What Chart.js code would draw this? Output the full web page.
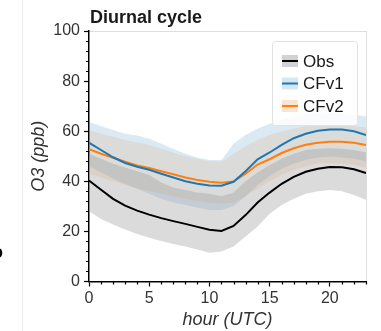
<!DOCTYPE html>
<html>
<head>
<meta charset="utf-8">
<script src="https://cdn.jsdelivr.net/npm/chart.js@4/dist/chart.umd.min.js"></script>
<style>
  html, body { margin: 0; padding: 0; background: #fff; }
  #wrap { width: 381px; height: 331px; }
</style>
</head>
<body>
<div id="wrap"><canvas id="myChart" width="381" height="331"></canvas></div>
<script>
// hourly diurnal cycle
const hours = [0, 1, 2, 3, 4, 5, 6, 7, 8, 9, 10, 11, 12, 13, 14, 15, 16, 17, 18, 19, 20, 21, 22, 23];

const obsMean = [40.3, 36.6, 33.0, 30.3, 28.3, 26.7, 25.3, 24.1, 23.0, 21.8, 20.7, 20.2, 22.2, 26.5, 31.5, 35.5, 39.0, 41.8, 43.8, 45.0, 45.7, 45.6, 44.8, 43.3];
const obsLow = [28, 25, 22.8, 20.8, 19, 17.5, 16.2, 15, 14, 12.8, 11.5, 12, 14, 18, 22, 27, 30.5, 33, 35, 36, 36.5, 36, 34.5, 32.5];
const obsHigh = [51, 49, 47, 45.5, 44, 42.5, 39.5, 37.5, 36.5, 35.5, 35, 34, 35.5, 40, 43.5, 46.5, 49, 51, 52.5, 53, 53.2, 53, 52.5, 51.5];

const cf1Mean = [55.4, 52.5, 49.6, 47.3, 45.8, 44.6, 43.0, 41.5, 40.0, 39.0, 38.3, 38.2, 39.8, 44.0, 48.8, 51.5, 54.5, 57.2, 59.0, 60.2, 60.7, 60.7, 60.0, 58.5];
const cf1Low = [46, 43.5, 41, 39, 37, 35, 33, 31.5, 30.5, 29.5, 28.5, 28.5, 30, 34, 38.5, 42, 45, 47, 48.5, 49.5, 49.8, 49.5, 49, 48];
const cf1High = [63.8, 62, 60.5, 59, 58.3, 57, 55, 53, 51, 49.5, 48.5, 48.5, 55, 58.5, 61, 63, 64.7, 66, 67, 67.5, 67.5, 67, 66.5, 66];

const cf2Mean = [52.8, 51.0, 49.4, 47.8, 46.3, 45.3, 44.0, 42.8, 41.5, 40.5, 39.8, 39.4, 39.9, 43.0, 46.7, 48.8, 51.3, 53.2, 54.6, 55.4, 55.8, 55.8, 55.4, 54.5];
const cf2Low = [43, 41.5, 40, 38.5, 37, 36, 35, 34, 33, 32, 31.3, 31, 31.5, 34, 37, 40, 42.5, 44.5, 46, 47, 47.2, 47, 46.5, 45.5];
const cf2High = [60.5, 59, 57.8, 56.5, 55.5, 54.5, 53, 51.5, 50, 49, 48, 47.8, 51, 54, 56.5, 58.5, 60, 61, 62, 62.5, 62.5, 62.5, 62, 61.5];

const seriesNames = ['Obs', 'CFv1', 'CFv2'];
const yTicks = [0, 20, 40, 60, 80, 100];
const xTicks = [0, 5, 10, 15, 20];

const FONT = "'Liberation Sans', Arial, Helvetica, sans-serif";

const pts = (arr) => hours.map((h, i) => ({ x: h, y: arr[i] }));

// band: lower edge (no fill) + upper edge filled down to it
const band = (lo, hi, color) => [
  { data: pts(lo), borderWidth: 0, pointRadius: 0, fill: false, order: 10 },
  { data: pts(hi), borderWidth: 0, pointRadius: 0, fill: '-1', backgroundColor: color, order: 10 },
];
const line = (arr, color) => ({
  data: pts(arr), borderColor: color, borderWidth: 2, pointRadius: 0, fill: false, tension: 0, order: 0,
});

const legendItems = [
  { label: seriesNames[0], patch: '#d2d2d2', line: '#000000' },
  { label: seriesNames[1], patch: '#d5e7f3', line: '#1f77b4' },
  { label: seriesNames[2], patch: '#fce4d3', line: '#ff7f0e' },
];

// extra drawing: title, frame, minor ticks, legend
const decor = {
  id: 'decor',
  beforeDraw(chart) {
    const ctx = chart.ctx;
    const a = chart.chartArea;
    ctx.save();
    ctx.strokeStyle = '#ececec';
    ctx.lineWidth = 1;
    ctx.beginPath();
    ctx.moveTo(22.5, 0);
    ctx.lineTo(22.5, 331);
    ctx.stroke();
    ctx.strokeStyle = '#dedede';
    ctx.beginPath();
    ctx.moveTo(a.left, a.top + 0.5);
    ctx.lineTo(a.right + 0.5, a.top + 0.5);
    ctx.lineTo(a.right + 0.5, a.bottom);
    ctx.stroke();
    ctx.restore();
  },
  afterDraw(chart) {
    const ctx = chart.ctx;
    const a = chart.chartArea;
    const xs = chart.scales.x;
    const ys = chart.scales.y;
    ctx.save();

    // minor ticks
    ctx.strokeStyle = '#000';
    ctx.lineWidth = 1.2;
    ctx.beginPath();
    for (let v = 0; v <= 100; v += 4) {
      if (v % 20 === 0) continue;
      const y = Math.round(ys.getPixelForValue(v)) + 0.5;
      ctx.moveTo(a.left - 3, y);
      ctx.lineTo(a.left, y);
    }
    for (let h = 0; h <= 23; h++) {
      if (h % 5 === 0) continue;
      const x = Math.round(xs.getPixelForValue(h)) + 0.5;
      ctx.moveTo(x, a.bottom);
      ctx.lineTo(x, a.bottom + 3);
    }
    ctx.stroke();

    // title
    ctx.fillStyle = '#1a1a1a';
    ctx.font = 'bold 18px ' + FONT;
    ctx.textAlign = 'left';
    ctx.textBaseline = 'alphabetic';
    ctx.fillText('Diurnal cycle', a.left + 1, 23);

    // cut-off glyph of the neighbouring panel
    ctx.fillStyle = '#000';
    ctx.fillText('o', -8, 258);

    // legend
    const bx = 272, by = 41, bw = 85, bh = 84;
    ctx.fillStyle = 'rgba(255,255,255,0.85)';
    ctx.strokeStyle = '#e2e2e2';
    ctx.lineWidth = 1;
    ctx.beginPath();
    ctx.roundRect(bx + 0.5, by + 0.5, bw, bh, 3);
    ctx.fill();
    ctx.stroke();
    ctx.font = '17px ' + FONT;
    ctx.textBaseline = 'middle';
    legendItems.forEach((it, i) => {
      const cy = 61 + i * 22.5;
      ctx.fillStyle = it.patch;
      ctx.fillRect(282, cy - 6, 16, 12);
      ctx.strokeStyle = it.line;
      ctx.lineWidth = 2;
      ctx.beginPath();
      ctx.moveTo(282, cy);
      ctx.lineTo(298, cy);
      ctx.stroke();
      ctx.fillStyle = '#1a1a1a';
      ctx.fillText(it.label, 303, cy + 1);
    });
    ctx.restore();
  },
};

const ctx = document.getElementById('myChart').getContext('2d');
window.myChart = new Chart(ctx, {
  type: 'line',
  data: {
    datasets: [
      ...band(obsLow, obsHigh, 'rgba(160,160,160,0.38)'),
      ...band(cf1Low, cf1High, 'rgba(31,119,180,0.16)'),
      ...band(cf2Low, cf2High, 'rgba(255,127,14,0.13)'),
      line(obsMean, '#000000'),
      line(cf1Mean, '#1f77b4'),
      line(cf2Mean, '#ff7f0e'),
    ],
  },
  options: {
    responsive: false,
    animation: false,
    events: [],
    layout: { padding: { left: 0, right: 15, top: 31, bottom: 0 } },
    plugins: { legend: { display: false }, title: { display: false }, tooltip: { enabled: false } },
    scales: {
      x: {
        type: 'linear',
        min: 0,
        max: 23,
        afterFit: (s) => { s.height = 49.5; },
        afterBuildTicks: (s) => { s.ticks = xTicks.map((v) => ({ value: v })); },
        grid: { drawOnChartArea: false, drawTicks: true, tickLength: 5, tickColor: '#000', tickWidth: 1.2 },
        border: { display: true, color: '#000', width: 1.5 },
        ticks: { color: '#333', padding: 2, font: { family: FONT, size: 16 }, maxRotation: 0 },
        title: { display: true, text: 'hour (UTC)', color: '#333', padding: { top: 0, bottom: 0 },
          font: { family: FONT, size: 18, style: 'italic' } },
      },
      y: {
        min: 0,
        max: 100,
        afterFit: (s) => { s.width = 89; },
        afterBuildTicks: (s) => { s.ticks = yTicks.map((v) => ({ value: v })); },
        grid: { drawOnChartArea: false, drawTicks: true, tickLength: 5, tickColor: '#000', tickWidth: 1.2 },
        border: { display: true, color: '#000', width: 1.5 },
        ticks: { color: '#333', padding: 4, font: { family: FONT, size: 16 } },
        title: { display: true, text: 'O3 (ppb)', color: '#333', padding: { top: 28, bottom: 0 },
          font: { family: FONT, size: 18, style: 'italic' } },
      },
    },
  },
  plugins: [decor],
});
</script>
</body>
</html>
